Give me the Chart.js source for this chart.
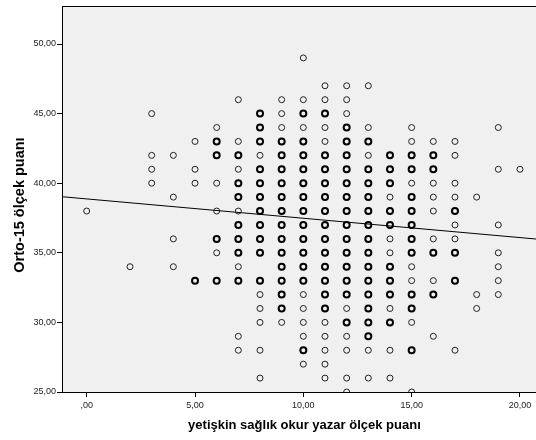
<!DOCTYPE html>
<html>
<head>
<meta charset="utf-8">
<script src="https://cdn.jsdelivr.net/npm/chart.js@4.4.1/dist/chart.umd.min.js"></script>
<style>
  html, body { margin: 0; padding: 0; background: #ffffff; overflow: hidden; }
  #wrap { width: 536px; height: 440px; }
  canvas { display: block; }
</style>
</head>
<body>
<div id="wrap"><canvas id="c" width="536" height="440"></canvas></div>
<script>
// Data (x = yetişkin sağlık okur yazar ölçek puanı, y = Orto-15 ölçek puanı)
// points drawn with a thin outline (single case)
const singlePoints = [
  [0,38],
  [2,34],
  [3,45],[3,42],[3,41],[3,40],
  [4,42],[4,39],[4,36],[4,34],
  [5,43],[5,41],[5,40],
  [6,44],[6,40],[6,38],[6,35],
  [7,46],[7,43],[7,41],[7,38],[7,34],[7,29],[7,28],
  [8,42],[8,32],[8,31],[8,30],[8,28],[8,26],
  [9,46],[9,45],[9,44],[9,30],
  [10,49],[10,46],[10,44],[10,32],[10,31],[10,30],[10,29],[10,27],
  [11,47],[11,46],[11,44],[11,43],[11,30],[11,29],[11,28],[11,27],[11,26],
  [12,47],[12,46],[12,45],[12,31],[12,29],[12,28],[12,26],[12,25],
  [13,47],[13,44],[13,42],[13,28],[13,26],
  [14,39],[14,36],[14,35],[14,31],[14,28],[14,26],
  [15,44],[15,43],[15,40],[15,34],[15,33],[15,30],[15,25],
  [16,43],[16,40],[16,39],[16,38],[16,36],[16,33],[16,29],
  [17,43],[17,42],[17,40],[17,39],[17,37],[17,36],[17,28],
  [18,39],[18,32],[18,31],
  [19,44],[19,41],[19,37],[19,35],[19,34],[19,33],[19,32],
  [20,41]
];
// points drawn with a heavy outline (overlapping cases)
const multiPoints = [
  [5,33],
  [6,43],[6,42],[6,36],[6,33],
  [7,42],[7,40],[7,39],[7,37],[7,36],[7,35],[7,33],
  [8,45],[8,44],[8,43],[8,41],[8,40],[8,39],[8,38],[8,37],[8,36],[8,35],[8,33],
  [9,43],[9,42],[9,41],[9,40],[9,39],[9,38],[9,37],[9,36],[9,35],[9,34],[9,33],[9,32],[9,31],
  [10,45],[10,43],[10,42],[10,41],[10,40],[10,39],[10,38],[10,37],[10,36],[10,35],[10,34],[10,33],[10,28],
  [11,45],[11,42],[11,41],[11,40],[11,39],[11,38],[11,37],[11,36],[11,35],[11,34],[11,33],[11,32],[11,31],
  [12,44],[12,43],[12,42],[12,41],[12,40],[12,39],[12,38],[12,37],[12,36],[12,35],[12,34],[12,33],[12,32],[12,30],
  [13,43],[13,41],[13,40],[13,39],[13,38],[13,37],[13,36],[13,35],[13,34],[13,33],[13,32],[13,31],[13,30],[13,29],
  [14,42],[14,41],[14,40],[14,38],[14,37],[14,34],[14,33],[14,32],[14,30],
  [15,42],[15,41],[15,39],[15,38],[15,37],[15,36],[15,35],[15,32],[15,31],[15,28],
  [16,42],[16,41],[16,35],[16,32],
  [17,38],[17,35],[17,33]
];
// fit line endpoints (read at the plot edges)
const fitX = [-1.14, 20.74];
const fitY = [39.03, 35.99];

const xTicks = [0, 5, 10, 15, 20];
const xTickLabels = [',00', '5,00', '10,00', '15,00', '20,00'];
const yTicks = [25, 30, 35, 40, 45, 50];
const yTickLabels = ['25,00', '30,00', '35,00', '40,00', '45,00', '50,00'];

const xTitle = '   yetişkin sağlık okur yazar ölçek puanı';
const yTitle = 'Orto-15 ölçek puanı   ';

const toXY = arr => arr.map(p => ({ x: p[0], y: p[1] }));
const noPadding = () => ({ left: 0, top: 0, right: 0, bottom: 0 });

const plotBg = {
  id: 'plotBg',
  beforeDraw(chart) {
    const { ctx, chartArea: a } = chart;
    ctx.save();
    ctx.fillStyle = '#ffffff';
    ctx.fillRect(0, 0, chart.width, chart.height);
    ctx.fillStyle = '#f0f0f0';
    ctx.fillRect(a.left, a.top, a.right - a.left, a.bottom - a.top);
    ctx.restore();
  },
  afterDraw(chart) {
    const { ctx, chartArea: a } = chart;
    ctx.save();
    ctx.strokeStyle = '#000000';
    ctx.lineWidth = 1;
    ctx.beginPath();
    ctx.moveTo(a.left, a.top + 0.5);
    ctx.lineTo(a.right, a.top + 0.5);
    ctx.stroke();
    ctx.restore();
  }
};

new Chart(document.getElementById('c'), {
  type: 'scatter',
  data: {
    datasets: [
      {
        data: toXY(singlePoints),
        pointRadius: 3,
        pointBorderWidth: 1,
        borderColor: '#222222',
        pointBorderColor: '#222222',
        pointBackgroundColor: 'rgba(0,0,0,0)',
        backgroundColor: 'rgba(0,0,0,0)',
        clip: 0
      },
      {
        data: toXY(multiPoints),
        pointRadius: 3,
        pointBorderWidth: 2,
        borderColor: '#000000',
        pointBorderColor: '#000000',
        pointBackgroundColor: 'rgba(0,0,0,0)',
        backgroundColor: 'rgba(0,0,0,0)',
        clip: 0
      },
      {
        type: 'line',
        data: fitX.map((x, i) => ({ x: x, y: fitY[i] })),
        borderColor: '#000000',
        borderWidth: 1,
        pointRadius: 0,
        fill: false,
        clip: 0
      }
    ]
  },
  options: {
    responsive: false,
    animation: false,
    devicePixelRatio: 1,
    layout: { autoPadding: false, padding: { top: 6, right: 0, left: 0, bottom: 0 } },
    plugins: { legend: { display: false }, tooltip: { enabled: false } },
    scales: {
      x: {
        type: 'linear',
        min: -1.14,
        max: 20.74,
        afterBuildTicks(scale) { scale.ticks = xTicks.map(v => ({ value: v })); },
        afterFit(scale) {
          scale.height = 48;
          scale.paddingLeft = 0; scale.paddingRight = 0;
          scale.getPadding = noPadding;
        },
        ticks: {
          callback(v, i) { return xTickLabels[i]; },
          color: '#222222',
          font: { family: '"Liberation Sans", Arial, sans-serif', size: 9 },
          padding: 3,
          maxRotation: 0,
          autoSkip: false
        },
        grid: { display: true, drawOnChartArea: false, drawTicks: true, tickLength: 5, color: '#000000', lineWidth: 1 },
        border: { display: true, color: '#000000', width: 1 },
        title: {
          display: true,
          text: xTitle,
          color: '#000000',
          font: { family: '"Liberation Sans", Arial, sans-serif', size: 13, weight: 'bold' },
          padding: { top: 4, bottom: 7 }
        }
      },
      y: {
        type: 'linear',
        min: 25,
        max: 52.73,
        afterBuildTicks(scale) { scale.ticks = yTicks.map(v => ({ value: v })); },
        afterFit(scale) {
          scale.width = 62;
          scale.paddingTop = 0; scale.paddingBottom = 0;
          scale.getPadding = noPadding;
        },
        ticks: {
          callback(v, i) { return yTickLabels[i]; },
          color: '#222222',
          font: { family: '"Liberation Sans", Arial, sans-serif', size: 9 },
          padding: 1,
          autoSkip: false
        },
        grid: { display: true, drawOnChartArea: false, drawTicks: true, tickLength: 5, color: '#000000', lineWidth: 1 },
        border: { display: true, color: '#000000', width: 1 },
        title: {
          display: true,
          text: yTitle,
          color: '#000000',
          font: { family: '"Liberation Sans", Arial, sans-serif', size: 14.5, weight: 'bold' },
          padding: { top: 11, bottom: 4 }
        }
      }
    }
  },
  plugins: [plotBg]
});
</script>
</body>
</html>
